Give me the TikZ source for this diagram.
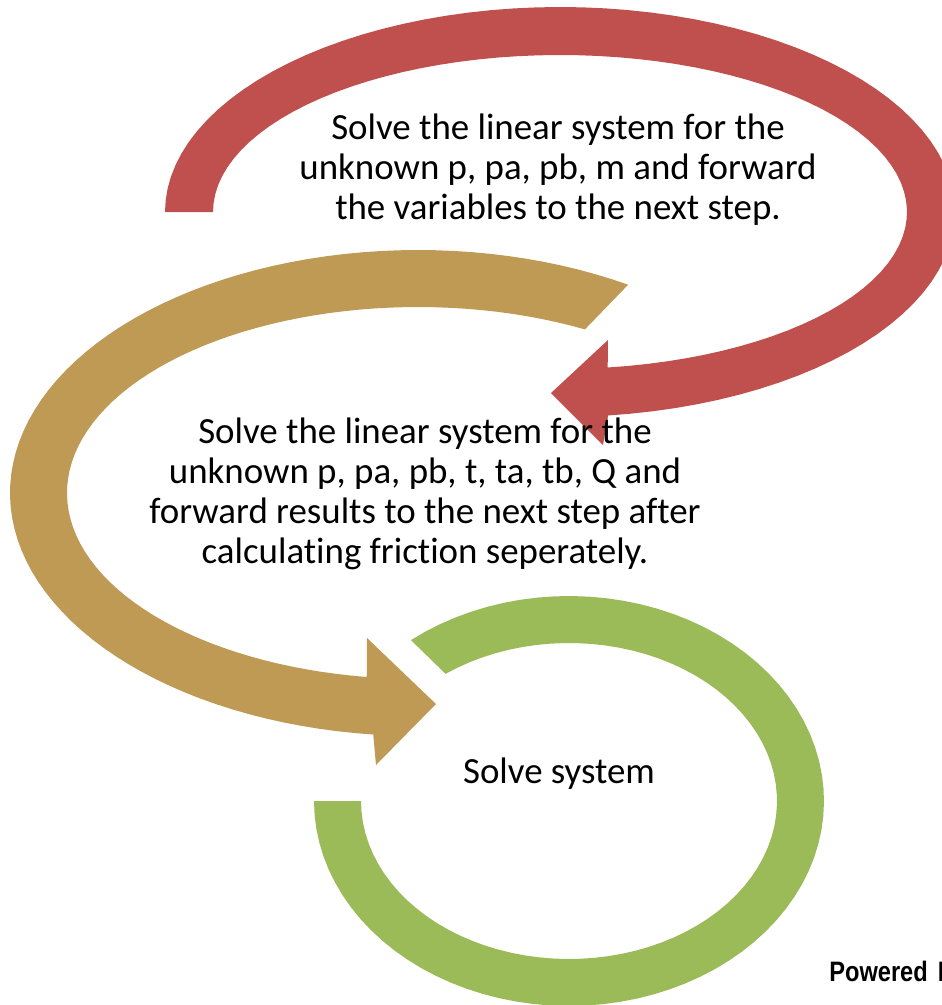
\documentclass[tikz,border=0pt]{standalone}
\usepackage{fontspec}
\setmainfont{Carlito}[Ligatures=NoCommon]
\newfontfamily\poweredfont{Liberation Sans}[FakeStretch=0.84]
\usepackage{tikz}
\usetikzlibrary{calc}
\usetikzlibrary{positioning}

\definecolor{arcred}{HTML}{C0504D}
\definecolor{arctan}{HTML}{BE9A55}
\definecolor{arcgreen}{HTML}{9BBB59}

\begin{document}
\begin{tikzpicture}[x=0.02cm, y=-0.02cm,
    steptext/.style={align=center, font=\fontsize{21}{22.8}\selectfont},
    band/.style={samples=80, variable=\t}]
    \useasboundingbox (0,0) rectangle (942,1005);
    \clip (0,0) rectangle (942,1005);

    % first step (red)
    \coordinate (redtip) at (551,393);
    \fill[arcred] plot[band, domain=180:443] ({560+395*cos(\t)},{212+205*sin(\t)})
        -- (603,445) -- (redtip) -- (608,340)
        -- plot[band, domain=442.1:180] ({560+347*cos(\t)},{212+157*sin(\t)}) -- cycle;

    % second step (tan)
    \coordinate (tantip) at (436,704);
    \fill[arctan] plot[band, domain=-59:-263.7] ({418+408*cos(\t)},{493+243*sin(\t)})
        -- (376,765) -- (tantip) -- (367,638)
        -- plot[band, domain=-261.6:-61.6] ({418+351*cos(\t)},{493+186*sin(\t)}) -- cycle;

    % last step (green)
    \fill[arcgreen] plot[band, domain=231.7:540] ({569+255*cos(\t)},{801+205*sin(\t)})
        -- plot[band, domain=540:233.6] ({569+208*cos(\t)},{801+158*sin(\t)}) -- cycle;

    \node[steptext] (redtext) at (558,170) {Solve the linear system for the\\unknown p, pa, pb, m and forward\\the variables to the next step.};
    \node[steptext] (tantext) at (425,494) {Solve the linear system for the\\unknown p, pa, pb, t, ta, tb, Q and\\forward results to the next step after\\calculating friction seperately.};
    \node[steptext] (greentext) at (559,774) {Solve system};

    \node[anchor=base west, inner sep=0pt, font=\poweredfont\bfseries\fontsize{16}{18}\selectfont] (powered) at (829,981) {Powered\kern2pt{} By};
\end{tikzpicture}
\end{document}
